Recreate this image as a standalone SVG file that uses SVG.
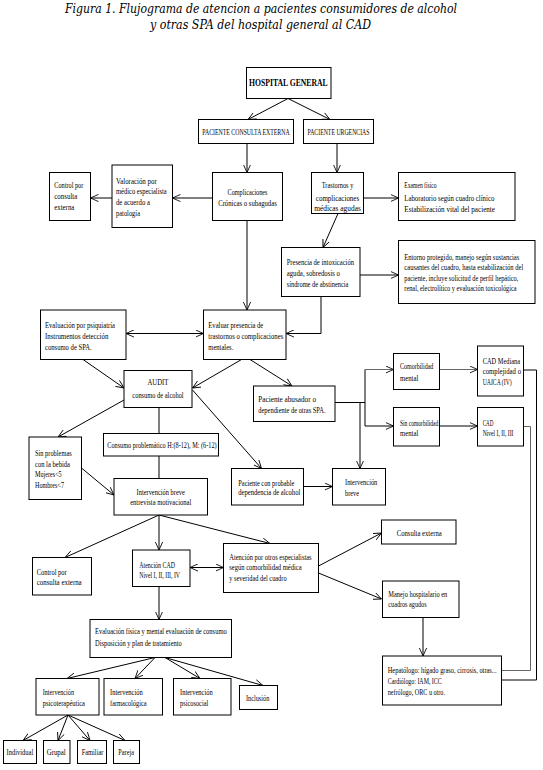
<svg xmlns="http://www.w3.org/2000/svg" width="543" height="770" viewBox="0 0 543 770">
<style>
rect{fill:#fff;stroke:#000;stroke-width:1}
text{font-family:"Liberation Serif","Times New Roman",serif;font-size:8.5px;fill:#000}
.c{text-anchor:middle}
.t{font-family:"DejaVu Serif","Liberation Serif",serif;font-style:italic;font-size:12px}
.b{font-weight:bold;font-size:9.5px}
.h{font-size:7.2px;text-anchor:middle}
.s{font-size:7.2px}
.m{font-size:8px}
#conn path{fill:none;stroke:#000;stroke-width:1}
#conn .a{marker-end:url(#ah)}
#conn .d{marker-end:url(#ah);marker-start:url(#ah)}
#conn .g{stroke:#666}
</style>
<defs>
<marker id="ah" viewBox="0 0 10 10" refX="10" refY="5" markerWidth="8" markerHeight="8" orient="auto-start-reverse" markerUnits="userSpaceOnUse"><path d="M0,0.5 L10,5 L0,9.5" fill="none" stroke="#000" stroke-width="1.1"/></marker>
</defs>
<rect x="0" y="0" width="543" height="770" style="stroke:none"/>
<g id="title">
<text class="t" x="65" y="13" textLength="392" lengthAdjust="spacingAndGlyphs">Figura 1. Flujograma de atencion a pacientes consumidores de alcohol</text>
<text class="t" x="150" y="29" textLength="221" lengthAdjust="spacingAndGlyphs">y otras SPA del hospital general al CAD</text>
</g>
<g id="conn">
<path class="a" d="M288,98.5 L248,119.5"/>
<path class="a" d="M288,98.5 L330,119.5"/>
<path class="a" d="M247,143.5 V172.5"/>
<path class="a" d="M337,143.5 V172.5"/>
<path class="a" d="M212.5,198 H172.5"/>
<path class="a" d="M112,198 H90.5"/>
<path class="a" d="M247,220.5 V310"/>
<path class="a" d="M363.5,198 H398.5"/>
<path class="a" d="M338,213.5 L323,247.5"/>
<path class="a" d="M360,275 H398.5"/>
<path class="a" d="M321,296.5 V333.5 H286"/>
<path class="d" d="M126,333.5 H203.5"/>
<path class="a" d="M83,359.5 L124,388"/>
<path class="a" d="M241.5,359.5 L192.5,388"/>
<path class="a" d="M250,359.5 L292,386"/>
<path class="a" d="M124,400 L58,437"/>
<path d="M159,407.5 V433.5"/>
<path class="a" d="M192.5,390 L261.5,468.5"/>
<path d="M335,402.5 H365 M365,369.5 V426"/>
<path class="a g" d="M365,369.5 H393.5"/>
<path class="a" d="M365,426 H393.5"/>
<path class="a" d="M360,402.5 V468.5"/>
<path class="a g" d="M439.5,369.5 H477.5"/>
<path class="a" d="M439.5,426 H477.5"/>
<path d="M523.5,370 H536.5 V680 H501.5"/>
<path class="g" d="M523.5,426.5 H530.5 V670.5 H501.5"/>
<path d="M159,456 V478.5"/>
<path class="a" d="M81.5,468 L114,495"/>
<path class="a" d="M303.5,486.5 H332.5"/>
<path class="a" d="M159,515 L65,557.5"/>
<path class="a" d="M159,515 V550"/>
<path class="a" d="M159,515 L270,543.5"/>
<path class="d" d="M190,567.5 H223.5"/>
<path class="a" d="M318.5,566 L381.5,533"/>
<path class="a" d="M318.5,573 L381.5,599"/>
<path class="a" d="M423,617.5 V656"/>
<path class="a" d="M159,586.5 V619.5"/>
<path class="a" d="M155,657.5 L67,678.5"/>
<path class="a" d="M155,657.5 L135,678.5"/>
<path class="a" d="M165,657.5 L200,678.5"/>
<path class="a" d="M165,657.5 L263,685.5"/>
<path class="a" d="M68,715 L23,740.5"/>
<path class="a" d="M68,715 L58,740.5"/>
<path class="a" d="M68,715 L90,740.5"/>
<path class="a" d="M68,715 L125,740.5"/>
</g>
<g id="hospital"><rect x="246.5" y="67.5" width="84.5" height="31"/><text class="b" x="249" y="86" textLength="78.7" lengthAdjust="spacingAndGlyphs">HOSPITAL GENERAL</text></g>
<g id="pce"><rect x="198.5" y="119.5" width="95" height="24"/><text class="h" x="246" y="134.8" textLength="87.3" lengthAdjust="spacingAndGlyphs">PACIENTE CONSULTA EXTERNA</text></g>
<g id="pu"><rect x="303.5" y="119.5" width="70" height="24"/><text class="h" x="338.5" y="134.8" textLength="62" lengthAdjust="spacingAndGlyphs">PACIENTE URGENCIAS</text></g>
<g id="ctrl1"><rect x="49.5" y="172.5" width="41" height="48"/>
<text x="54.3" y="188" textLength="29" lengthAdjust="spacingAndGlyphs">Control por</text>
<text x="54.3" y="199" textLength="23" lengthAdjust="spacingAndGlyphs">consulta</text>
<text x="54.3" y="210" textLength="20" lengthAdjust="spacingAndGlyphs">externa</text></g>
<g id="valoracion"><rect x="112" y="165" width="60.5" height="62.5"/>
<text x="116" y="183.5" textLength="40.7" lengthAdjust="spacingAndGlyphs">Valoración por</text>
<text x="116" y="194" textLength="50.7" lengthAdjust="spacingAndGlyphs">médico especialista</text>
<text x="116" y="205" textLength="34" lengthAdjust="spacingAndGlyphs">de acuerdo a</text>
<text x="116" y="216" textLength="24" lengthAdjust="spacingAndGlyphs">patología</text></g>
<g id="complicaciones"><rect x="212.5" y="172.5" width="70" height="48"/>
<text class="c" x="247.5" y="194.5" textLength="40" lengthAdjust="spacingAndGlyphs">Complicaciones</text>
<text class="c" x="247.5" y="205.5" textLength="58.7" lengthAdjust="spacingAndGlyphs">Crónicas o subagudas</text></g>
<g id="trastornos"><rect x="311.5" y="172.5" width="52" height="41"/>
<text class="c" x="337.5" y="188" textLength="31.7" lengthAdjust="spacingAndGlyphs">Trastornos y</text>
<text class="c" x="337.5" y="200.5" textLength="43.3" lengthAdjust="spacingAndGlyphs">complicaciones</text>
<text class="c" x="337.5" y="211.3" textLength="46.7" lengthAdjust="spacingAndGlyphs">médicas agudas</text></g>
<g id="examen"><rect x="398.5" y="172.5" width="116.5" height="48"/>
<text x="404.3" y="188" textLength="32.3" lengthAdjust="spacingAndGlyphs">Examen físico</text>
<text x="404.3" y="200.5" textLength="90" lengthAdjust="spacingAndGlyphs">Laboratorio según cuadro clínico</text>
<text x="404.3" y="212.3" textLength="90.7" lengthAdjust="spacingAndGlyphs">Estabilización vital del paciente</text></g>
<g id="presencia"><rect x="281.5" y="247.5" width="78.5" height="49"/>
<text x="286.7" y="264.7" textLength="67.3" lengthAdjust="spacingAndGlyphs">Presencia de intoxicación</text>
<text x="286.7" y="275.7" textLength="53.3" lengthAdjust="spacingAndGlyphs">aguda, sobredosis o</text>
<text x="286.7" y="287" textLength="61.7" lengthAdjust="spacingAndGlyphs">síndrome de abstinencia</text></g>
<g id="entorno"><rect x="398.5" y="240.5" width="136.5" height="63"/>
<text class="s" x="404.3" y="260.3" textLength="115" lengthAdjust="spacingAndGlyphs">Entorno protegido, manejo según sustancias</text>
<text class="s" x="404.3" y="270.3" textLength="119" lengthAdjust="spacingAndGlyphs">causantes del cuadro, hasta estabilización del</text>
<text class="s" x="404.3" y="280.7" textLength="114" lengthAdjust="spacingAndGlyphs">paciente, incluye solicitud de perfil hepático,</text>
<text class="s" x="404.3" y="291.3" textLength="112.3" lengthAdjust="spacingAndGlyphs">renal, electrolítico y evaluación toxicológica</text></g>
<g id="evpsiq"><rect x="40.5" y="310" width="85.5" height="49.5"/>
<text x="45" y="328" textLength="70" lengthAdjust="spacingAndGlyphs">Evaluación por psiquiatría</text>
<text x="45" y="338.7" textLength="63.3" lengthAdjust="spacingAndGlyphs">Instrumentos detección</text>
<text x="45" y="349.7" textLength="46.7" lengthAdjust="spacingAndGlyphs">consumo de SPA.</text></g>
<g id="evpres"><rect x="203.5" y="310" width="82.5" height="49.5"/>
<text x="208.3" y="328" textLength="55" lengthAdjust="spacingAndGlyphs">Evaluar presencia de</text>
<text x="208.3" y="338.7" textLength="75" lengthAdjust="spacingAndGlyphs">trastornos o complicaciones</text>
<text x="208.3" y="349.7" textLength="25" lengthAdjust="spacingAndGlyphs">mentales.</text></g>
<g id="audit"><rect x="124" y="370.5" width="68" height="37"/>
<text class="c" x="158" y="384.7" textLength="21" lengthAdjust="spacingAndGlyphs">AUDIT</text>
<text class="c" x="158" y="398" textLength="51.3" lengthAdjust="spacingAndGlyphs">consumo de alcohol</text></g>
<g id="abusador"><rect x="253.5" y="386" width="81.5" height="35.5"/>
<text x="258.3" y="402.3" textLength="57.7" lengthAdjust="spacingAndGlyphs">Paciente abusador o</text>
<text x="258.3" y="413" textLength="67.3" lengthAdjust="spacingAndGlyphs">dependiente de otras SPA.</text></g>
<g id="comorb"><rect x="393.5" y="353.5" width="46" height="36"/>
<text x="400" y="369" textLength="33.3" lengthAdjust="spacingAndGlyphs">Comorbilidad</text>
<text x="400" y="380.7" textLength="18.3" lengthAdjust="spacingAndGlyphs">mental</text></g>
<g id="cadmed"><rect x="477.5" y="346" width="46" height="50"/>
<text x="482.7" y="363.7" textLength="37.3" lengthAdjust="spacingAndGlyphs">CAD Mediana</text>
<text x="482.7" y="374" textLength="38.3" lengthAdjust="spacingAndGlyphs">complejidad o</text>
<text x="482.7" y="384.7" textLength="29" lengthAdjust="spacingAndGlyphs">UAICA (IV)</text></g>
<g id="sincomorb"><rect x="393.5" y="407.5" width="46" height="38.5"/>
<text x="400" y="425.7" textLength="38.3" lengthAdjust="spacingAndGlyphs">Sin comorbilidad</text>
<text x="400" y="435.7" textLength="18.3" lengthAdjust="spacingAndGlyphs">mental</text></g>
<g id="cadniv"><rect x="477.5" y="407.5" width="46" height="38.5"/>
<text x="482.7" y="425.7" textLength="10.7" lengthAdjust="spacingAndGlyphs">CAD</text>
<text x="482.7" y="435.7" textLength="30.7" lengthAdjust="spacingAndGlyphs">Nivel I, II, III</text></g>
<g id="consprob"><rect x="103.5" y="433.5" width="115" height="22.5"/>
<text x="107.3" y="448.3" textLength="109.3" lengthAdjust="spacingAndGlyphs">Consumo problemático H:(8-12), M: (6-12)</text></g>
<g id="sinprob"><rect x="29" y="437" width="52.5" height="62.5"/>
<text x="35" y="456.3" textLength="36.7" lengthAdjust="spacingAndGlyphs">Sin problemas</text>
<text x="35" y="467" textLength="35" lengthAdjust="spacingAndGlyphs">con la bebida</text>
<text x="35" y="477.3" textLength="26.7" lengthAdjust="spacingAndGlyphs">Mujeres&lt;5</text>
<text x="35" y="488" textLength="29" lengthAdjust="spacingAndGlyphs">Hombres&lt;7</text></g>
<g id="intbreve"><rect x="114" y="478.5" width="93.5" height="36.5"/>
<text class="c" x="160.7" y="494.7" textLength="48.3" lengthAdjust="spacingAndGlyphs">Intervención breve</text>
<text class="c" x="160.7" y="504.7" textLength="61" lengthAdjust="spacingAndGlyphs">entrevista motivacional</text></g>
<g id="pcprob"><rect x="231.5" y="468.5" width="72" height="36.5"/>
<text x="238.3" y="485.7" textLength="56" lengthAdjust="spacingAndGlyphs">Paciente con probable</text>
<text x="238.3" y="495.3" textLength="62" lengthAdjust="spacingAndGlyphs">dependencia de alcohol</text></g>
<g id="intbreve2"><rect x="332.5" y="468.5" width="53" height="36.5"/>
<text x="345" y="484.7" textLength="32.3" lengthAdjust="spacingAndGlyphs">Intervención</text>
<text x="345" y="496.3" textLength="14" lengthAdjust="spacingAndGlyphs">breve</text></g>
<g id="consext"><rect x="381.5" y="520" width="74.5" height="24"/>
<text x="396.7" y="535.7" textLength="45" lengthAdjust="spacingAndGlyphs">Consulta externa</text></g>
<g id="ctrl2"><rect x="32.5" y="557.5" width="59" height="37.5"/>
<text x="36.7" y="574.7" textLength="30" lengthAdjust="spacingAndGlyphs">Control por</text>
<text x="36.7" y="585.3" textLength="45" lengthAdjust="spacingAndGlyphs">consulta externa</text></g>
<g id="atcad"><rect x="132.5" y="550" width="57.5" height="36.5"/>
<text x="139.3" y="568" textLength="35.7" lengthAdjust="spacingAndGlyphs">Atención CAD</text>
<text x="139.3" y="578" textLength="40.7" lengthAdjust="spacingAndGlyphs">Nivel I, II, III, IV</text></g>
<g id="atotros"><rect x="223.5" y="543.5" width="95" height="49"/>
<text x="229.3" y="560.3" textLength="82.3" lengthAdjust="spacingAndGlyphs">Atención por otros especialistas</text>
<text x="229.3" y="570.3" textLength="72.3" lengthAdjust="spacingAndGlyphs">según comorbilidad médica</text>
<text x="229.3" y="581" textLength="57.3" lengthAdjust="spacingAndGlyphs">y severidad del cuadro</text></g>
<g id="manejo"><rect x="382.5" y="581" width="76.5" height="36.5"/>
<text x="388.3" y="597" textLength="59" lengthAdjust="spacingAndGlyphs">Manejo hospitalario en</text>
<text x="388.3" y="607.3" textLength="38.3" lengthAdjust="spacingAndGlyphs">cuadros agudos</text></g>
<g id="hepat"><rect x="382.5" y="656" width="119" height="49"/>
<text class="m" x="387.7" y="673" textLength="109" lengthAdjust="spacingAndGlyphs">Hepatólogo: hígado graso, cirrosis, otras...</text>
<text x="387.7" y="684" textLength="54" lengthAdjust="spacingAndGlyphs">Cardiólogo: IAM, ICC</text>
<text x="387.7" y="695.3" textLength="57.3" lengthAdjust="spacingAndGlyphs">nefrólogo, ORC u otro.</text></g>
<g id="evfis"><rect x="90" y="619.5" width="141.5" height="38"/>
<text x="95" y="634" textLength="131.7" lengthAdjust="spacingAndGlyphs">Evaluación física y mental evaluación de consumo</text>
<text x="95" y="645.7" textLength="86.7" lengthAdjust="spacingAndGlyphs">Disposición y plan de tratamiento</text></g>
<g id="psicot"><rect x="36" y="678.5" width="63" height="36.5"/>
<text x="42.7" y="694.7" textLength="31.3" lengthAdjust="spacingAndGlyphs">Intervención</text>
<text x="42.7" y="706.3" textLength="42.3" lengthAdjust="spacingAndGlyphs">psicoterapéutica</text></g>
<g id="farm"><rect x="104" y="678.5" width="58.5" height="36.5"/>
<text x="110" y="694.7" textLength="32.7" lengthAdjust="spacingAndGlyphs">Intervención</text>
<text x="110" y="706.3" textLength="36.7" lengthAdjust="spacingAndGlyphs">farmacológica</text></g>
<g id="psicos"><rect x="173.5" y="678.5" width="57.5" height="36.5"/>
<text x="180" y="694.7" textLength="32.7" lengthAdjust="spacingAndGlyphs">Intervención</text>
<text x="180" y="706.3" textLength="28.3" lengthAdjust="spacingAndGlyphs">psicosocial</text></g>
<g id="inclusion"><rect x="239.5" y="685.5" width="38" height="24"/>
<text x="246" y="700.7" textLength="23.3" lengthAdjust="spacingAndGlyphs">Inclusión</text></g>
<g id="individual"><rect x="3.5" y="740.5" width="33" height="23"/>
<text x="6.5" y="754.7" textLength="26.7" lengthAdjust="spacingAndGlyphs">Individual</text></g>
<g id="grupal"><rect x="43.5" y="740.5" width="26.5" height="23"/>
<text x="46.7" y="754.7" textLength="19" lengthAdjust="spacingAndGlyphs">Grupal</text></g>
<g id="familiar"><rect x="77.5" y="740.5" width="29" height="23"/>
<text x="81.7" y="754.7" textLength="21.7" lengthAdjust="spacingAndGlyphs">Familiar</text></g>
<g id="pareja"><rect x="113.5" y="740.5" width="26" height="23"/>
<text x="118.3" y="754.7" textLength="15.7" lengthAdjust="spacingAndGlyphs">Pareja</text></g>
</svg>
